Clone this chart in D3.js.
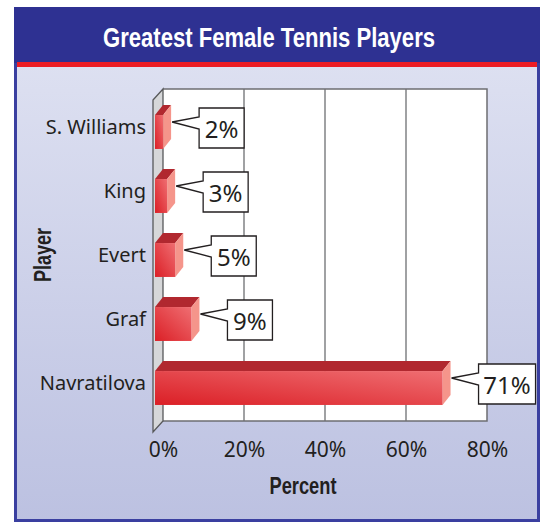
<!DOCTYPE html>
<html>
<head>
<meta charset="utf-8">
<script src="https://cdn.jsdelivr.net/npm/d3@7"></script>
<style>
  body { margin: 0; background: #fff; }
  svg { display: block; }
</style>
</head>
<body>
<svg id="chart" width="543" height="522"></svg>
<script>
    // data
    var players = ['S. Williams', 'King', 'Evert', 'Graf', 'Navratilova'];
    var percents = [2, 3, 5, 9, 71];
    var tickValues = [0, 20, 40, 60, 80];

    var svg = d3.select('#chart');
    var defs = svg.append('defs');

    var bg = defs.append('linearGradient').attr('id', 'bg')
      .attr('x1', 0).attr('y1', 0).attr('x2', 0).attr('y2', 1);
    bg.append('stop').attr('offset', '0%').attr('stop-color', '#dde0f1');
    bg.append('stop').attr('offset', '100%').attr('stop-color', '#bcc1e1');

    var face = defs.append('linearGradient').attr('id', 'face')
      .attr('x1', 0).attr('y1', 1).attr('x2', 1).attr('y2', 0);
    face.append('stop').attr('offset', '0%').attr('stop-color', '#db1f26');
    face.append('stop').attr('offset', '100%').attr('stop-color', '#ef6e72');

    // frame + title band
    svg.append('rect').attr('x', 15.5).attr('y', 62).attr('width', 523).attr('height', 458.5)
      .attr('fill', 'url(#bg)').attr('stroke', '#3a3fa0').attr('stroke-width', 3);
    svg.append('rect').attr('x', 14).attr('y', 7).attr('width', 526).attr('height', 56)
      .attr('fill', '#2e3192');
    svg.append('rect').attr('x', 17).attr('y', 62).attr('width', 520).attr('height', 5)
      .attr('fill', '#ed1c24');

    svg.append('text')
      .attr('x', 269).attr('y', 47)
      .attr('text-anchor', 'middle')
      .attr('textLength', 332).attr('lengthAdjust', 'spacingAndGlyphs')
      .style('font-family', '"Liberation Sans Narrow", "Arial Narrow", sans-serif')
      .style('font-weight', 'bold').style('font-size', '27px')
      .attr('fill', '#fff')
      .text('Greatest Female Tennis Players');

    // plot geometry: back plane and 3d depth
    var plotTop = 89, plotBottom = 421;
    var wallDx = 10, wallDy = 11;
    var barDx = 8, barDy = 10;

    var x = d3.scaleLinear().domain([0, 80]).range([163, 487]);
    var y = d3.scaleBand().domain(players).range([100, 420])
      .paddingInner(0.47).paddingOuter(0.235);

    // back wall
    svg.append('rect').attr('x', x(0)).attr('y', plotTop)
      .attr('width', x(80) - x(0)).attr('height', plotBottom - plotTop)
      .attr('fill', '#fff');

    svg.append('g').selectAll('line')
      .data(tickValues.slice(1, -1))
      .enter().append('line')
      .attr('x1', function(d) { return x(d); })
      .attr('x2', function(d) { return x(d); })
      .attr('y1', plotTop).attr('y2', plotBottom)
      .attr('stroke', '#808285').attr('stroke-width', 1.5);

    svg.append('path')
      .attr('d', 'M' + x(0) + ',' + plotTop + 'H' + x(80) + 'V' + plotBottom + 'H' + x(0))
      .attr('fill', 'none').attr('stroke', '#6d6e71').attr('stroke-width', 1.5);

    // left side wall
    svg.append('path')
      .attr('d', 'M' + (x(0) - wallDx) + ',' + (plotTop + wallDy) +
        'L' + x(0) + ',' + plotTop + 'L' + x(0) + ',' + plotBottom +
        'L' + (x(0) - wallDx) + ',' + (plotBottom + wallDy) + 'Z')
      .attr('fill', '#d6d7d9').attr('stroke', '#58595b').attr('stroke-width', 1.3);

    // bars
    var bars = svg.append('g').selectAll('g')
      .data(players)
      .enter().append('g');

    function fx(i) { return x(percents[i]) - barDx; }
    var fx0 = x(0) - barDx;

    bars.append('path')
      .attr('d', function(d, i) {
        var y0 = y(d);
        return 'M' + fx0 + ',' + y0 + 'L' + (fx0 + barDx) + ',' + (y0 - barDy) +
          'L' + (fx(i) + barDx) + ',' + (y0 - barDy) + 'L' + fx(i) + ',' + y0 + 'Z';
      })
      .attr('fill', '#b1282f');

    bars.append('path')
      .attr('d', function(d, i) {
        var y0 = y(d), y1 = y(d) + y.bandwidth();
        return 'M' + fx(i) + ',' + y0 + 'L' + (fx(i) + barDx) + ',' + (y0 - barDy) +
          'L' + (fx(i) + barDx) + ',' + (y1 - barDy) + 'L' + fx(i) + ',' + y1 + 'Z';
      })
      .attr('fill', '#f5958b');

    bars.append('rect')
      .attr('x', fx0)
      .attr('y', function(d) { return y(d); })
      .attr('width', function(d, i) { return fx(i) - fx0; })
      .attr('height', y.bandwidth())
      .attr('fill', 'url(#face)');

    // callouts
    var callouts = svg.append('g').selectAll('g')
      .data(players)
      .enter().append('g');

    callouts.append('path')
      .attr('d', function(d, i) {
        var c = y(d) + y.bandwidth() / 2;
        var tipX = fx(i) + barDx + 1, tipY = c - 10;
        var bx = tipX + 27, by = c - 24;
        var bw = percents[i] >= 10 ? 57 : 45, bh = 40;
        return 'M' + bx + ',' + (by + 9) + 'V' + by + 'H' + (bx + bw) + 'V' + (by + bh) +
          'H' + bx + 'V' + (by + 21) + 'L' + tipX + ',' + tipY + 'Z';
      })
      .attr('fill', '#fff').attr('stroke', '#231f20').attr('stroke-width', 1.3)
      .attr('stroke-linejoin', 'miter');

    callouts.append('text')
      .attr('x', function(d, i) {
        var bw = percents[i] >= 10 ? 57 : 45;
        return fx(i) + barDx + 1 + 27 + bw / 2;
      })
      .attr('y', function(d) { return y(d) + y.bandwidth() / 2 + 6; })
      .attr('text-anchor', 'middle')
      .style('font-family', '"Noto Sans", sans-serif').style('font-size', '24px')
      .attr('fill', '#231f20')
      .text(function(d, i) { return percents[i] + '%'; });

    // category labels
    svg.append('g').selectAll('text')
      .data(players)
      .enter().append('text')
      .attr('x', 146)
      .attr('y', function(d) { return y(d) + y.bandwidth() / 2 + 2; })
      .attr('text-anchor', 'end')
      .style('font-family', '"Noto Sans", sans-serif').style('font-size', '20px')
      .attr('fill', '#231f20')
      .text(function(d) { return d; });

    // x axis tick labels
    var xAxis = svg.append('g')
      .attr('transform', 'translate(0,' + plotBottom + ')')
      .call(d3.axisBottom(x).tickValues(tickValues).tickFormat(function(d) { return d + '%'; }));
    xAxis.select('.domain').remove();
    xAxis.selectAll('.tick line').remove();
    xAxis.selectAll('.tick text')
      .attr('y', 36).attr('dy', 0)
      .style('font-family', '"Noto Sans", sans-serif').style('font-size', '21px')
      .attr('fill', '#231f20');

    // axis titles
    svg.append('text')
      .attr('x', 303).attr('y', 494)
      .attr('text-anchor', 'middle')
      .attr('textLength', 67).attr('lengthAdjust', 'spacingAndGlyphs')
      .style('font-family', '"Liberation Sans Narrow", "Arial Narrow", sans-serif')
      .style('font-weight', 'bold').style('font-size', '23px')
      .attr('fill', '#231f20')
      .text('Percent');

    svg.append('text')
      .attr('transform', 'translate(51,255) rotate(-90)')
      .attr('text-anchor', 'middle')
      .attr('textLength', 54).attr('lengthAdjust', 'spacingAndGlyphs')
      .style('font-family', '"Liberation Sans Narrow", "Arial Narrow", sans-serif')
      .style('font-weight', 'bold').style('font-size', '23px')
      .attr('fill', '#231f20')
      .text('Player');
</script>
</body>
</html>
